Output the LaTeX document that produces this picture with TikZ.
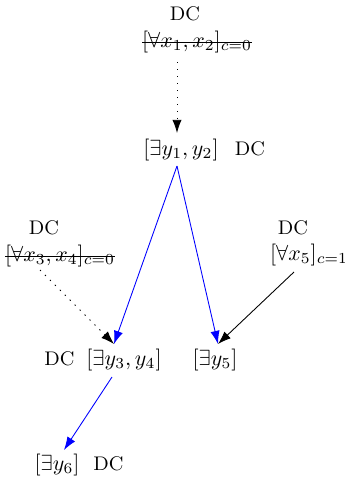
\documentclass[tikz,border=0pt]{standalone}
\usetikzlibrary{positioning,arrows.meta}
\newsavebox\caixariscada
\newcommand\riscado[1]{\sbox\caixariscada{#1}%
  \rlap{\rule[0.45ex]{\wd\caixariscada}{0.4pt}}\usebox\caixariscada}
\begin{document}
\begin{tikzpicture}[x=0.4566pt,y=-0.4566pt,
  rotulo/.style={font=\small,inner sep=2pt},
  formula/.style={inner sep=2pt},
  seta/.style={-{Latex[length=6pt,width=4.2pt]},thin},
  pontilhada/.style={seta,dash pattern=on 0.6pt off 2.6pt},
  azul/.style={seta,blue}]
  \useasboundingbox (0,0) rectangle (345,477);
  \node[rotulo] (dc1) at (185,14) {DC};
  \node[formula] (x12) at (197,42) {\riscado{$[\forall x_1,x_2]_{c=0}$}};
  \node[formula] (y12) at (181,150) {$[\exists y_1,y_2]$};
  \node[rotulo,base right=3pt of y12] (dc2) {DC};
  \node[rotulo] (dc3) at (44,228) {DC};
  \node[formula] (x34) at (60,256) {\riscado{$[\forall x_3,x_4]_{c=0}$}};
  \node[rotulo] (dc4) at (293,228) {DC};
  \node[formula] (x5) at (309,255) {$[\forall x_5]_{c=1}$};
  \node[formula] (y34) at (124,360) {$[\exists y_3,y_4]$};
  \node[rotulo,base left=1pt of y34] (dc5) {DC};
  \node[formula] (y5) at (215,360) {$[\exists y_5]$};
  \node[formula] (y6) at (57,465) {$[\exists y_6]$};
  \node[rotulo,base right=2pt of y6] (dc6) {DC};
  % pontos de entrada e saida das setas
  \coordinate (x12s) at (177,62);
  \coordinate (y12n) at (177,133);
  \coordinate (y12s) at (177,166);
  \coordinate (x34s) at (40,270);
  \coordinate (x5s) at (294,272);
  \coordinate (y34n) at (114,344);
  \coordinate (y5n) at (218,344);
  \coordinate (y34s) at (112,377);
  \coordinate (y6n) at (64,450);
  \draw[pontilhada] (x12s)--(y12n);
  \draw[azul] (y12s)--(y34n);
  \draw[azul] (y12s)--(y5n);
  \draw[pontilhada] (x34s)--(y34n);
  \draw[seta] (x5s)--(y5n);
  \draw[azul] (y34s)--(y6n);
\end{tikzpicture}
\end{document}
